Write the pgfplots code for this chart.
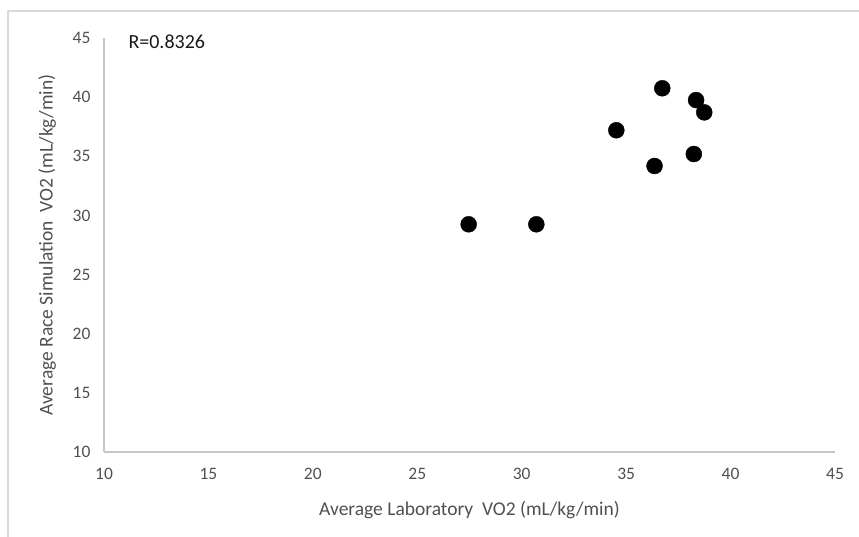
\documentclass[border=0pt]{standalone}
\usepackage{pgfplots}
\pgfplotsset{compat=1.18}
\usepackage{fontspec}
\setmainfont{Carlito}
\definecolor{axgray}{HTML}{C6C6C6}
\definecolor{bordergray}{HTML}{D9D9D9}
\definecolor{txtgray}{HTML}{505050}
\begin{document}
\begin{tikzpicture}[x=1pt,y=1pt]
\useasboundingbox (0,0) rectangle (859,537);
\draw[bordergray, line width=1.2pt] (8,-5) -- (8,526) -- (870,526);
\begin{axis}[
  at={(104pt,85pt)}, anchor=south west,
  scale only axis, width=731pt, height=414pt,
  xmin=10, xmax=45, ymin=10, ymax=45,
  xtick={10,15,...,45}, ytick={10,15,...,45},
  axis lines=left, axis line style={axgray, line width=1.2pt, -},
  major tick length=0pt,
  /pgf/number format/assume math mode=true,
  tick label style={font=\fontsize{17.5}{20}\selectfont, text=txtgray},
  xticklabel style={yshift=-13pt},
  yticklabel style={xshift=-10pt},
  label style={font=\fontsize{19.5}{22}\selectfont, text=txtgray},
  xlabel={Average Laboratory~ VO2 (mL/kg/min)},
  ylabel={Average Race Simulation~ VO2 (mL/kg/min)},
  xlabel style={yshift=-14pt},
  ylabel style={yshift=10pt},
  clip=false,
]
\addplot[only marks, mark=*, mark size=8pt, mark options={fill=black, draw=black}] coordinates {
(27.46,29.25) (30.70,29.25) (34.53,37.2) (36.36,34.18) (36.73,40.75) (38.24,35.19) (38.35,39.75) (38.74,38.71)
};
\node[anchor=west, font=\fontsize{20}{24}\selectfont, text=black!90] at (axis cs:10,45) [xshift=21pt, yshift=-4pt] {R=0.8326};
\end{axis}
\end{tikzpicture}
\end{document}
